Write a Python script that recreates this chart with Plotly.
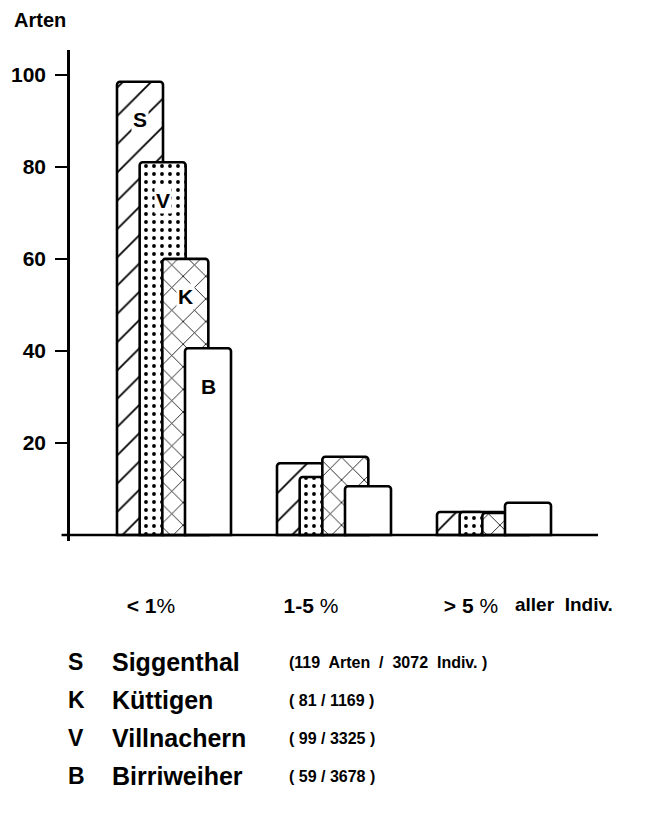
import plotly.graph_objects as go

# ---------------- data ----------------
categories = ["<1%", "1-5 %", ">5 %"]
tick_labels = ["<b>&lt; 1</b>%", "<b>1-5</b> %", "<b>&gt; 5</b> %"]
series_codes = ["S", "V", "K", "B"]
S_values = [98.5, 15.6, 5.0]
V_values = [81.0, 12.6, 5.0]
K_values = [60.0, 17.0, 4.8]
B_values = [40.6, 10.6, 7.0]
y_ticks = [20, 40, 60, 80, 100]
site_codes = ["S", "K", "V", "B"]
site_names = ["Siggenthal", "Küttigen", "Villnachern", "Birriweiher"]
site_counts = ["(119  Arten  /  3072  Indiv. )", "( 81 / 1169 )", "( 99 / 3325 )", "( 59 / 3678 )"]

# ---------------- style ----------------
FONT = "Liberation Sans, Arial, sans-serif"
OFF = 8  # page body margin
W, H = 646 - 2 * OFF, 816 - 2 * OFF
ML, MT = 70 - OFF, 50 - OFF
MR = W - (598 - OFF)
MB = H - (541 - OFF)
plot_h = H - MT - MB
plot_w = W - ML - MR

bar_width = 0.2875
offsets = [-0.2125, -0.0708, 0.0708, 0.2125]
patterns = [
    dict(shape="/", size=20, solidity=0.09, fgcolor="black", fgopacity=1, bgcolor="white", fillmode="overlay"),
    dict(shape=".", size=8, solidity=0.18, fgcolor="black", fgopacity=1, bgcolor="white", fillmode="overlay"),
    dict(shape="x", size=16, solidity=0.1, fgcolor="black", fgopacity=1, bgcolor="white", fillmode="overlay"),
    dict(shape="", fgcolor="black", bgcolor="white"),
]
values = [S_values, V_values, K_values, B_values]

fig = go.Figure()
for code, vals, off, pat in zip(series_codes, values, offsets, patterns):
    fig.add_trace(go.Bar(
        x=categories, y=vals, name=code,
        offset=off, width=bar_width,
        marker=dict(color="white", pattern=pat,
                    line=dict(color="black", width=2.6), cornerradius=3),
        showlegend=False, hoverinfo="skip",
    ))


def px_to_paper_x(px):
    return (px - OFF - ML) / plot_w


def py_to_paper_y(py):
    return (H - MB - (py - OFF)) / plot_h


annotations = []
# letters inside the first group's bars
for code, vals, off in zip(series_codes, values, offsets):
    annotations.append(dict(
        x=0 + off + bar_width / 2, y=vals[0], xref="x", yref="y",
        yshift=-38, text=f"<b>{code}</b>", showarrow=False,
        font=dict(family=FONT, size=21, color="black"),
        bgcolor="white", borderpad=1,
    ))

# y-axis title
annotations.append(dict(x=px_to_paper_x(12), y=py_to_paper_y(20), xref="paper", yref="paper",
                        xanchor="left", yanchor="middle", text="<b>Arten</b>",
                        showarrow=False, font=dict(family=FONT, size=20, color="black")))

annotations.append(dict(x=px_to_paper_x(513), y=py_to_paper_y(604), xref="paper", yref="paper",
                        xanchor="left", yanchor="middle", text="<b>aller  Indiv.</b>",
                        showarrow=False, font=dict(family=FONT, size=19, color="black")))

# legend block
row_y = [662, 700, 738, 776]
for code, name, cnt, ry in zip(site_codes, site_names, site_counts, row_y):
    yy = py_to_paper_y(ry)
    annotations.append(dict(x=px_to_paper_x(66), y=yy, xref="paper", yref="paper", xanchor="left",
                            yanchor="middle", text=f"<b>{code}</b>", showarrow=False,
                            font=dict(family=FONT, size=23, color="black")))
    annotations.append(dict(x=px_to_paper_x(110), y=yy, xref="paper", yref="paper", xanchor="left",
                            yanchor="middle", text=f"<b>{name}</b>", showarrow=False,
                            font=dict(family=FONT, size=25, color="black")))
    annotations.append(dict(x=px_to_paper_x(287), y=yy, xref="paper", yref="paper", xanchor="left",
                            yanchor="middle", text=f"<b>{cnt}</b>", showarrow=False,
                            font=dict(family=FONT, size=16, color="black")))

fig.update_layout(
    width=W, height=H, barmode="overlay",
    margin=dict(l=ML, r=MR, t=MT, b=MB, pad=0, autoexpand=False),
    paper_bgcolor="white", plot_bgcolor="white",
    annotations=annotations,
    shapes=[dict(type="line", xref="paper", yref="y", x0=-0.016, x1=1, y0=0, y1=0,
                 line=dict(color="black", width=2.6))],
    xaxis=dict(type="category", categoryorder="array", categoryarray=categories,
               range=[-0.50625, 2.79375], tickvals=categories, ticktext=tick_labels,
               showgrid=False, zeroline=False, showline=False, ticks="",
               ticklabelstandoff=50, automargin=False,
               tickfont=dict(family=FONT, size=21, color="black")),
    yaxis=dict(range=[-1.3, 105.4], tickvals=y_ticks, ticktext=[f"<b>{v}</b>" for v in y_ticks],
               showgrid=False, zeroline=False, showline=True, linecolor="black", linewidth=2.6,
               ticks="outside", ticklen=12, tickwidth=2.4, tickcolor="black",
               ticklabelstandoff=5, automargin=False,
               tickfont=dict(family=FONT, size=21, color="black")),
)

fig.write_html("out.html")
